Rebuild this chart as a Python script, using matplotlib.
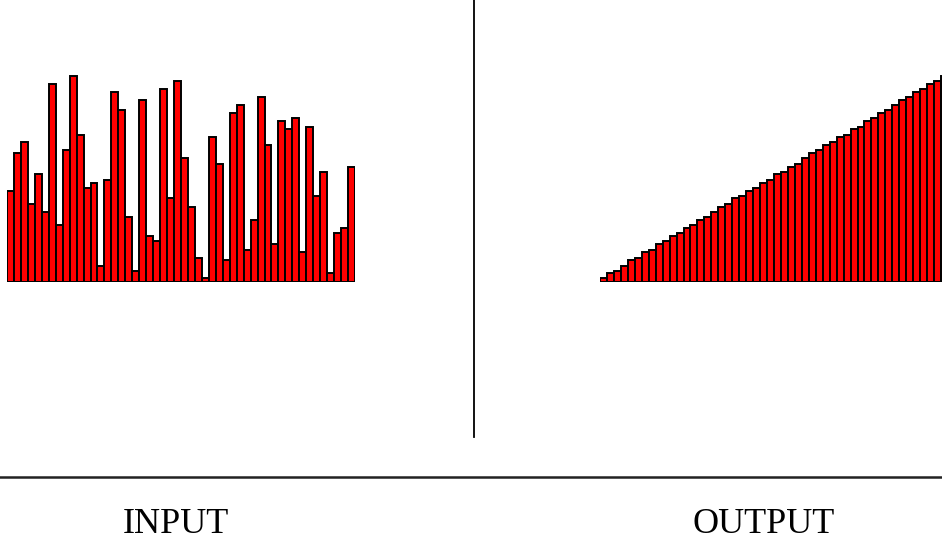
import matplotlib
matplotlib.use("Agg")
import matplotlib.pyplot as plt
from matplotlib.lines import Line2D
import numpy as np

# bar heights (pixels above the baseline)
input_vals = [91, 129, 140, 78, 108, 70, 198, 57, 132, 206,
              147, 94, 99, 16, 102, 190, 172, 65, 11, 182,
              46, 41, 193, 84, 201, 124, 75, 24, 4, 145,
              118, 22, 169, 177, 32, 62, 185, 137, 38, 161,
              153, 164, 30, 155, 86, 110, 9, 49, 54, 115]
output_vals = [4, 9, 11, 16, 22, 24, 30, 32, 38, 41,
               46, 49, 54, 57, 62, 65, 70, 75, 78, 84,
               86, 91, 94, 99, 102, 108, 110, 115, 118, 124,
               129, 132, 137, 140, 145, 147, 153, 155, 161, 164,
               169, 172, 177, 182, 185, 190, 193, 198, 201, 206]
labels = ["INPUT", "OUTPUT"]

W, H = 942, 542
fig = plt.figure(figsize=(W / 100, H / 100), dpi=100)
fig.patch.set_facecolor("white")

def bar_panel(vals, left_px):
    # one px per data unit: baseline at y=282 from top, 348 px wide
    ax = fig.add_axes([left_px / W, (H - 282) / H, 348 / W, 250 / H])
    n = len(vals)
    ax.bar(np.arange(n), vals, width=1.0, align="edge",
           color="#ff0000", edgecolor="black", linewidth=1.4)
    ax.set_xlim(0, n)
    ax.set_ylim(0, 250)
    ax.axis("off")
    return ax

bar_panel(input_vals, 7)
bar_panel(output_vals, 600)

# divider lines
fig.add_artist(Line2D([474 / W, 474 / W], [(H - 437) / H, 1.0],
                      color="black", linewidth=1.3))
fig.add_artist(Line2D([0, 1], [(H - 477) / H, (H - 477) / H],
                      color="#222222", linewidth=1.8))

# labels sit right at the bottom edge, as in the reference
fig.text(176 / W, (H - 533) / H, labels[0], ha="center", va="baseline",
         family="Liberation Serif", fontsize=26)
fig.text(764 / W, (H - 533) / H, labels[1], ha="center", va="baseline",
         family="Liberation Serif", fontsize=26)

fig.savefig("out.png", dpi=100, facecolor="white")
